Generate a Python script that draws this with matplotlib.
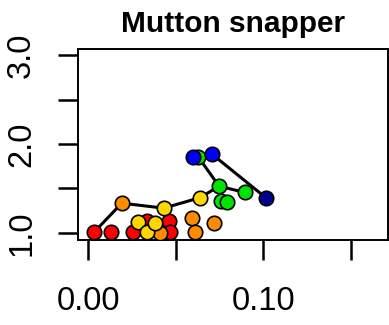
import numpy as np
import matplotlib
matplotlib.use('Agg')
import matplotlib.pyplot as plt

title = "Mutton snapper"

# points, in drawing order (red -> navy)
xs = [0.0033, 0.0130, 0.0257, 0.0334, 0.0461, 0.0464,   # red
      0.0191, 0.0407, 0.0591, 0.0610, 0.0717,           # orange
      0.0281, 0.0334, 0.0381, 0.0431, 0.0638,           # yellow
      0.0747, 0.0758, 0.0790, 0.0894, 0.0627,           # green
      0.0597, 0.0707,                                   # blue
      0.1013]                                           # navy
ys = [1.008, 1.008, 1.006, 1.135, 1.131, 1.008,
      1.334, 0.997, 1.165, 1.015, 1.116,
      1.118, 1.008, 1.116, 1.278, 1.396,
      1.525, 1.356, 1.348, 1.455, 1.857,
      1.857, 1.885,
      1.397]
groups = ["red"] * 6 + ["orange"] * 5 + ["yellow"] * 5 + ["green"] * 5 + ["blue"] * 2 + ["navy"]
group_colors = {"red": "#FF0000", "orange": "#FF8C00", "yellow": "#FFD700",
                "green": "#00E400", "blue": "#0000FF", "navy": "#000090"}

# connecting lines (indices into the point lists, None = break)
path = [0, 6, 14, 15, 16, 19, None, 16, 20, 21, 22, 23]

xticks = [0.00, 0.05, 0.10, 0.15]
xticklabels = ["0.00", "", "0.10", ""]
yticks = [1.0, 1.5, 2.0, 2.5, 3.0]
yticklabels = ["1.0", "", "2.0", "", "3.0"]

plt.rcParams['font.family'] = ['Liberation Sans', 'DejaVu Sans']

fig = plt.figure(figsize=(3.89, 3.25), dpi=100)
ax = fig.add_axes([78 / 389, (325 - 239.5) / 325, 310 / 389, 191 / 325])

px = [np.nan if i is None else xs[i] for i in path]
py = [np.nan if i is None else ys[i] for i in path]
ax.plot(px, py, color="black", lw=2.2, zorder=2)

for x, y, g in zip(xs, ys, groups):
    ax.plot(x, y, "o", ms=10.4, mfc=group_colors[g], mec="black", mew=1.2, zorder=3)

ax.set_xlim(-0.0059, 0.1712)
ax.set_ylim(0.925, 3.075)
ax.set_xticks(xticks)
ax.set_xticklabels(xticklabels)
ax.set_yticks(yticks)
ax.set_yticklabels(yticklabels, rotation=90, va="center")

ax.tick_params(axis="both", direction="out", length=14.5, width=1.8, labelsize=23.5)
ax.tick_params(axis="x", pad=19)
ax.tick_params(axis="y", pad=15)
for s in ax.spines.values():
    s.set_linewidth(1.4)

fig.text(233 / 389, 1 - 32 / 325, title, ha="center", va="baseline",
         fontsize=21.5, fontweight="bold")

fig.savefig("out.png", dpi=100)
